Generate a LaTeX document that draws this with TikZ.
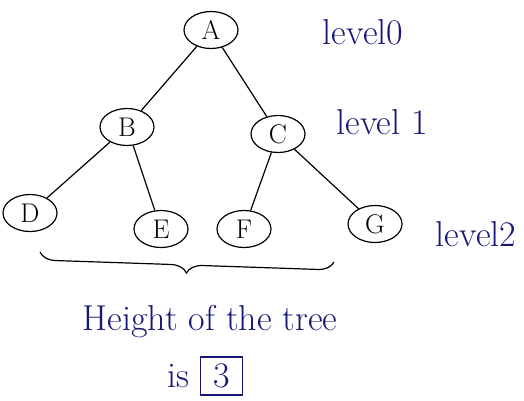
\documentclass[tikz,border=0pt]{standalone}
\usepackage{tikz}
\usetikzlibrary{decorations.pathreplacing, positioning, shapes.geometric}
\definecolor{ink}{RGB}{22,24,120}
\tikzset{vertex/.style={ellipse,draw,line width=1.2pt,minimum width=54pt,minimum height=37pt,inner sep=1pt,font=\fontsize{27}{29}\selectfont},link/.style={line width=1.2pt},note/.style={text=ink,font=\fontsize{36}{40}\selectfont,inner sep=1pt}}

\begin{document}
\begin{tikzpicture}[x=1pt,y=-1pt]
\useasboundingbox (0,0) rectangle (524,400);
\node[vertex] (a) at (211,30) {A};
\node[vertex] (b) at (127,127) {B};
\node[vertex] (c) at (278,134) {C};
\node[vertex] (d) at (30,213) {D};
\node[vertex] (e) at (161,229) {E};
\node[vertex] (f) at (244,229) {F};
\node[vertex] (g) at (375,224) {G};
\draw[link] (a) -- (b);
\draw[link] (a) -- (c);
\draw[link] (b) -- (d);
\draw[link] (b) -- (e);
\draw[link] (c) -- (f);
\draw[link] (c) -- (g);
\node[note] (l0) at (363,32) {level0};
\node[note] (l1) at (382,122) {level 1};
\node[note] (l2) at (476,234) {level2};
\coordinate (bl) at (40,252);
\coordinate (br) at (334,262);
\draw[line width=1.2pt,decorate,decoration={brace,mirror,amplitude=16pt}] (bl) -- (br);
\node[note] (ht) at (210,322) {Height of the tree};
\node[note] (is) at (178,376) {is};
\node[note,draw=ink,line width=1.2pt,minimum width=42pt,minimum height=38pt,right=10pt of is] (n3) {3};
\end{tikzpicture}
\end{document}
